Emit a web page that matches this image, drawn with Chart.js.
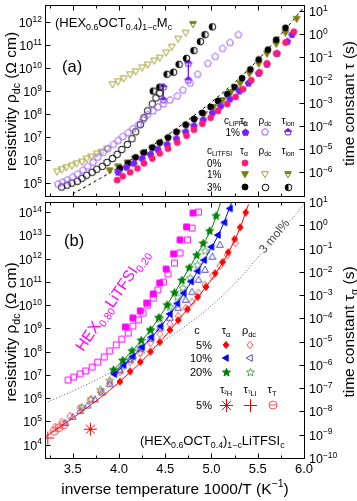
<!DOCTYPE html>
<html>
<head>
<meta charset="utf-8">
<script src="https://cdn.jsdelivr.net/npm/chart.js@4.4.0/dist/chart.umd.min.js"></script>
<style>
html, body { margin: 0; padding: 0; background: #fff; }
#wrap { position: relative; width: 357px; height: 501px; }
canvas { position: absolute; left: 0; top: 0; }
</style>
</head>
<body>
<div id="wrap">
  <canvas id="chartA" width="357" height="501"></canvas>
  <canvas id="chartB" width="357" height="501"></canvas>
</div>
<script>
// all values below are log10 of rho (Ohm cm) or tau (s); x is 1000/T

// ---- panel (a) ----
const aFitX = [3.50, 3.80, 4.12, 4.44, 4.77, 5.09, 5.42, 5.74, 6.00];
const aFit  = [-6.94, -6.26, -5.48, -4.62, -3.66, -2.65, -1.45, -0.06, 1.18];

const aTauX0 = [3.98, 4.04, 4.12, 4.20, 4.27, 4.36, 4.44, 4.53, 4.63, 4.73, 4.81, 4.90, 4.99, 5.07, 5.17, 5.26, 5.34, 5.43, 5.52, 5.60, 5.70, 5.80, 5.89];
const aTau0  = [-6.34, -6.17, -6.00, -5.83, -5.61, -5.40, -5.18, -4.97, -4.71, -4.41, -4.15, -3.89, -3.63, -3.33, -3.03, -2.73, -2.39, -2.00, -1.65, -1.27, -0.84, -0.36, 0.11];

const aTauX3 = [4.01, 4.10, 4.18, 4.27, 4.36, 4.44, 4.53, 4.62, 4.72, 4.81, 4.90, 4.99, 5.07, 5.17, 5.25, 5.33, 5.42, 5.51, 5.61, 5.70, 5.80];
const aTau3  = [-5.83, -5.61, -5.35, -5.14, -4.92, -4.71, -4.49, -4.24, -3.93, -3.68, -3.42, -3.16, -2.90, -2.60, -2.30, -1.91, -1.53, -1.10, -0.67, -0.24, 0.28];

const aTauX1 = [3.90, 3.99, 4.09, 4.17, 4.26, 4.36, 4.44, 4.53, 4.63, 4.73, 4.82, 4.92, 5.02, 5.12, 5.21, 5.31, 5.41, 5.51, 5.60, 5.70, 5.80, 5.92];
const aTau1  = [-5.91, -5.74, -5.57, -5.40, -5.18, -4.97, -4.75, -4.54, -4.28, -3.98, -3.72, -3.46, -3.16, -2.86, -2.51, -2.13, -1.70, -1.27, -0.84, -0.41, 0.07, 0.67];

const aTauXP = [3.99, 4.08, 4.16, 4.25, 4.34, 4.42, 4.52, 4.62, 4.72, 4.81, 4.91, 5.01, 5.10, 5.20, 5.30, 5.40, 5.51, 5.60, 5.71, 5.82, 5.87];
const aTauP  = [-6.00, -5.78, -5.61, -5.40, -5.22, -5.01, -4.79, -4.54, -4.24, -3.98, -3.72, -3.42, -3.12, -2.82, -2.47, -2.13, -1.70, -1.31, -0.84, -0.32, -0.02];

const aRhoX3 = [3.38, 3.44, 3.49, 3.55, 3.60, 3.65, 3.71, 3.76, 3.82, 3.87, 3.93, 3.98, 4.03, 4.09, 4.14, 4.18, 4.23, 4.27, 4.31, 4.36, 4.40, 4.44];
const aRho3  = [4.84, 4.92, 5.01, 5.09, 5.22, 5.35, 5.48, 5.61, 5.74, 5.91, 6.08, 6.26, 6.47, 6.69, 6.94, 7.24, 7.55, 7.85, 8.15, 8.45, 8.71, 8.92];

const aRhoXP = [3.34, 3.39, 3.44, 3.50, 3.55, 3.61, 3.66, 3.72, 3.77, 3.83, 3.88, 3.94, 3.99, 4.04, 4.10, 4.15, 4.21, 4.26, 4.31, 4.37, 4.42, 4.48, 4.55, 4.63, 4.69, 4.77, 4.85, 4.96, 5.04, 5.12, 5.20, 5.29];
const aRhoP  = [4.97, 5.05, 5.14, 5.27, 5.40, 5.57, 5.74, 5.91, 6.13, 6.34, 6.51, 6.69, 6.86, 7.03, 7.20, 7.37, 7.55, 7.76, 7.98, 8.15, 8.32, 8.45, 8.62, 8.79, 9.05, 9.35, 9.74, 10.21, 10.51, 10.86, 11.12, 11.46];

const aRhoX1 = [3.33, 3.38, 3.43, 3.49, 3.54, 3.60, 3.65, 3.70, 3.76, 3.81, 3.87, 3.93, 3.99, 4.05, 4.12, 4.18, 4.25, 4.31, 4.38, 4.44, 4.51, 4.57, 4.64, 4.72];
const aRho1  = [5.52, 5.61, 5.70, 5.78, 5.87, 5.95, 6.08, 6.17, 6.30, 6.38, 6.51, 9.31, 9.44, 9.57, 9.74, 9.87, 10.04, 10.17, 10.34, 10.47, 10.69, 10.94, 11.29, 11.55];

const aIonX3 = [4.37, 4.44, 4.52, 4.59, 4.65, 4.73, 4.81, 4.88, 4.93, 5.01];
const aIon3  = [-2.47, -2.30, -1.74, -1.65, -1.31, -1.05, -0.71, -0.32, -0.02, 0.32];
const aIonX1 = [4.80];
const aIon1  = [0.45];
const aIonXP1 = [4.48, 4.48];
const aIonP1  = [-2.30, -2.86];
const aIonXP2 = [4.75, 4.75];
const aIonP2  = [-1.27, -2.00];

// ---- panel (b) ----
const bRefX = [3.20, 3.50, 3.80, 4.10, 4.40, 4.70, 5.00, 5.30, 5.55, 5.80, 6.00];
const bRef  = [-7.64, -7.12, -6.55, -5.90, -5.18, -4.38, -3.45, -2.30, -1.15, -0.05, 0.90];

const bFitX5 = [3.20, 3.60, 4.00, 4.40, 4.70, 4.95, 5.15, 5.30, 5.40];
const bFit5  = [-9.10, -8.00, -6.75, -5.20, -3.80, -2.60, -1.40, -0.20, 0.90];
const bFitX10 = [3.95, 4.20, 4.40, 4.60, 4.80, 4.95, 5.10, 5.22];
const bFit10  = [-6.40, -5.45, -4.60, -3.55, -2.30, -1.30, -0.20, 1.00];
const bFitX20 = [3.94, 4.15, 4.34, 4.52, 4.69, 4.86, 5.02, 5.10];
const bFit20  = [-6.22, -5.36, -4.50, -3.43, -2.30, -1.15, 0.05, 1.00];

const bTauX5 = [4.01, 4.12, 4.23, 4.34, 4.44, 4.55, 4.64, 4.74, 4.85, 4.94, 5.04, 5.12, 5.18, 5.25, 5.31, 5.37];
const bTau5  = [-6.72, -6.28, -5.87, -5.43, -5.02, -4.50, -4.08, -3.61, -3.08, -2.65, -2.06, -1.58, -1.16, -0.60, -0.09, 0.55];
const bTauX10 = [3.95, 4.05, 4.15, 4.25, 4.35, 4.45, 4.55, 4.63, 4.70, 4.78, 4.85, 4.92, 5.00, 5.07, 5.14, 5.20];
const bTau10  = [-6.40, -6.02, -5.64, -5.24, -4.81, -4.34, -3.81, -3.36, -2.92, -2.42, -1.97, -1.50, -0.93, -0.42, 0.12, 0.72];
const bTauX20 = [3.94, 4.04, 4.14, 4.24, 4.34, 4.43, 4.52, 4.60, 4.68, 4.76, 4.84, 4.91, 4.98, 5.05];
const bTau20  = [-6.22, -5.81, -5.40, -4.95, -4.50, -3.97, -3.43, -2.90, -2.37, -1.83, -1.29, -0.78, -0.25, 0.40];

const bRhoX5 = [3.31, 3.38, 3.47, 3.58, 3.69, 3.80, 3.90, 4.01, 4.12, 4.23, 4.34, 4.44, 4.55, 4.64, 4.72, 4.79, 4.86, 4.93, 5.01, 5.09, 5.17, 5.26];
const bRho5  = [4.76, 4.98, 5.23, 5.58, 5.92, 6.26, 6.69, 7.12, 7.55, 7.94, 8.37, 8.76, 9.19, 9.53, 9.87, 10.13, 10.52, 10.86, 11.25, 11.68, 12.15, 12.67];
const bRhoX10 = [3.42, 3.50, 3.58, 3.66, 3.74, 3.82, 3.90, 4.01, 4.12, 4.23, 4.34, 4.44, 4.55, 4.64, 4.72, 4.79, 4.86, 4.93, 5.01, 5.09];
const bRho10  = [4.93, 5.19, 5.45, 5.68, 5.94, 6.25, 6.60, 7.20, 7.65, 8.10, 8.55, 9.00, 9.45, 9.87, 10.22, 10.56, 11.08, 11.51, 12.07, 12.58];
const bRhoX20 = [3.60, 3.70, 3.80, 3.90, 4.01, 4.12, 4.23, 4.34, 4.44, 4.55, 4.63, 4.69, 4.77, 4.85, 4.93];
const bRho20  = [5.60, 5.95, 6.35, 6.75, 7.20, 7.65, 8.15, 8.90, 9.40, 9.90, 10.35, 10.73, 11.16, 11.72, 12.32];

const bSqRhoX = [3.45, 3.51, 3.58, 3.64, 3.71, 3.77, 3.84, 3.90, 3.97, 4.03, 4.10, 4.15, 4.21, 4.26, 4.31, 4.37, 4.42, 4.48, 4.53, 4.60, 4.66, 4.74, 4.79, 4.86];
const bSqRho  = [6.78, 6.91, 7.04, 7.17, 7.34, 7.55, 7.77, 8.03, 8.29, 8.54, 8.80, 9.10, 9.36, 9.66, 10.00, 10.30, 10.65, 10.99, 11.34, 11.81, 12.24, 12.80, 13.31, 14.00];
const bSqTauX = [4.07, 4.15, 4.23, 4.30, 4.37, 4.44, 4.51, 4.59, 4.66, 4.73, 4.80];
const bSqTau  = [-4.37, -3.98, -3.68, -3.34, -2.95, -2.48, -1.88, -1.23, -0.63, -0.07, 0.53];

const bH2X = [3.69];  const bH2 = [-8.76];
const bLiX = [3.23];  const bLi = [-9.14];
const bTTX = [3.30, 3.35, 3.40];  const bTT = [-8.85, -8.70, -8.58];

// ---------- helpers ----------
const FONT = '"Liberation Sans", Arial, Helvetica, sans-serif';

function rich(ctx, str, x, y, size, align, color, halo) {
  const parts = [];
  let cur = '', i = 0;
  while (i < str.length) {
    const c = str[i];
    if ((c === '_' || c === '^') && str[i + 1] === '{') {
      if (cur) parts.push({ t: cur, m: 0 });
      cur = '';
      const end = str.indexOf('}', i);
      parts.push({ t: str.slice(i + 2, end), m: c === '_' ? -1 : 1 });
      i = end + 1;
    } else { cur += c; i++; }
  }
  if (cur) parts.push({ t: cur, m: 0 });
  const small = size * 0.68;
  let w = 0;
  parts.forEach(p => {
    ctx.font = (p.m ? small : size) + 'px ' + FONT;
    p.w = ctx.measureText(p.t).width;
    w += p.w;
  });
  let sx = align === 'center' ? x - w / 2 : align === 'right' ? x - w : x;
  ctx.textAlign = 'left';
  ctx.textBaseline = 'alphabetic';
  parts.forEach(p => {
    ctx.font = (p.m ? small : size) + 'px ' + FONT;
    const dy = p.m === -1 ? size * 0.24 : p.m === 1 ? -size * 0.42 : 0;
    if (halo) {
      ctx.strokeStyle = '#fff'; ctx.lineWidth = 3;
      ctx.strokeText(p.t, sx, y + dy);
    }
    ctx.fillStyle = color || '#000';
    ctx.fillText(p.t, sx, y + dy);
    sx += p.w;
  });
}

function richRot(ctx, str, cx, cy, size, deg, color, halo) {
  ctx.save();
  ctx.translate(cx, cy);
  ctx.rotate(deg * Math.PI / 180);
  rich(ctx, str, 0, size * 0.35, size, 'center', color, halo);
  ctx.restore();
}

const SHAPES = {
  circle: (g, r) => g.arc(0, 0, r, 0, Math.PI * 2),
  pent: (g, r) => {
    for (let k = 0; k < 5; k++) {
      const a = -Math.PI / 2 + k * Math.PI * 2 / 5;
      g.lineTo(r * Math.cos(a), r * Math.sin(a));
    }
    g.closePath();
  },
  triDown: (g, r) => { g.moveTo(0, r); g.lineTo(-r * 0.9, -r * 0.6); g.lineTo(r * 0.9, -r * 0.6); g.closePath(); },
  triUp: (g, r) => { g.moveTo(0, -r); g.lineTo(r * 0.9, r * 0.6); g.lineTo(-r * 0.9, r * 0.6); g.closePath(); },
  triLeft: (g, r) => { g.moveTo(-r, 0); g.lineTo(r * 0.6, -r * 0.9); g.lineTo(r * 0.6, r * 0.9); g.closePath(); },
  diamond: (g, r) => { g.moveTo(0, -r); g.lineTo(r * 0.8, 0); g.lineTo(0, r); g.lineTo(-r * 0.8, 0); g.closePath(); },
  star: (g, r) => {
    for (let k = 0; k < 10; k++) {
      const a = -Math.PI / 2 + k * Math.PI / 5;
      const rr = k % 2 ? r * 0.45 : r;
      g.lineTo(rr * Math.cos(a), rr * Math.sin(a));
    }
    g.closePath();
  },
  square: (g, r) => g.rect(-r * 0.85, -r * 0.85, r * 1.7, r * 1.7),
  ast: (g, r) => {
    for (let k = 0; k < 4; k++) {
      const a = k * Math.PI / 4;
      g.moveTo(r * Math.cos(a), r * Math.sin(a));
      g.lineTo(-r * Math.cos(a), -r * Math.sin(a));
    }
  },
  plus: (g, r) => { g.moveTo(-r, 0); g.lineTo(r, 0); g.moveTo(0, -r); g.lineTo(0, r); },
  cbar: (g, r) => { g.arc(0, 0, r, 0, Math.PI * 2); g.moveTo(-r, 0); g.lineTo(r, 0); }
};

function sym(shape, color, mode, r) {
  const s = Math.ceil(r * 2 + 4);
  const c = document.createElement('canvas');
  c.width = s; c.height = s;
  const g = c.getContext('2d');
  g.translate(s / 2, s / 2);
  g.lineWidth = 1;
  g.strokeStyle = color;
  g.fillStyle = color;
  g.beginPath(); SHAPES[shape](g, r);
  if (mode === 'fill') { g.fill(); g.stroke(); }
  else {
    g.stroke();
    if (mode === 'half') {
      g.save();
      g.beginPath(); SHAPES[shape](g, r); g.clip();
      g.fillRect(-s, -s, 2 * s, s);
      g.restore();
    } else if (mode === 'halfL') {
      g.save();
      g.beginPath(); SHAPES[shape](g, r); g.clip();
      g.fillRect(-s, -s, s, 2 * s);
      g.restore();
    }
  }
  return c;
}

function pts(xs, ls) { return xs.map((x, i) => ({ x: x, y: Math.pow(10, ls[i]) })); }
function marks(xs, ls, axis, style) {
  return { data: pts(xs, ls), yAxisID: axis, pointStyle: style, pointRadius: 3, showLine: false };
}
function curve(xs, ls, axis, color, dash) {
  return {
    data: pts(xs, ls), yAxisID: axis, showLine: true, pointRadius: 0,
    borderColor: color, borderWidth: 1, borderDash: dash || [],
    cubicInterpolationMode: 'monotone', fill: false
  };
}

function drawSym(ctx, s, x, y) { ctx.drawImage(s, Math.round(x - s.width / 2), Math.round(y - s.height / 2)); }
function expo(e) { return '10^{' + (e < 0 ? '\u2212' + (-e) : e) + '}'; }

const framePlugin = {
  id: 'frame',
  afterDatasetsDraw(chart, args, o) {
    const ctx = chart.ctx, a = chart.chartArea, sx = chart.scales.x;
    const yl = chart.scales.yL, yr = chart.scales.yR;
    const L = Math.round(a.left) + 0.5, R = Math.round(a.right) + 0.5;
    const T = Math.round(a.top) + 0.5, B = Math.round(a.bottom) + 0.5;
    ctx.save();
    ctx.strokeStyle = '#000';
    ctx.lineWidth = 1;
    ctx.strokeRect(L, T, R - L, B - T);
    ctx.beginPath();
    for (let v = 3.25; v < 6.0; v += 0.25) {
      const p = Math.round(sx.getPixelForValue(v)) + 0.5;
      const len = Math.abs(v * 2 - Math.round(v * 2)) < 1e-6 ? 5 : 3;
      ctx.moveTo(p, B); ctx.lineTo(p, B - len);
      ctx.moveTo(p, T); ctx.lineTo(p, T + len);
    }
    for (let e = o.left[0]; e <= o.left[1]; e++) {
      const p = Math.round(yl.getPixelForValue(Math.pow(10, e))) + 0.5;
      ctx.moveTo(L, p); ctx.lineTo(L + 5, p);
    }
    for (let e = o.right[0]; e <= o.right[1]; e++) {
      const p = Math.round(yr.getPixelForValue(Math.pow(10, e))) + 0.5;
      ctx.moveTo(R, p); ctx.lineTo(R - 5, p);
    }
    ctx.stroke();

    for (let e = o.left[0]; e <= o.left[1]; e++) {
      const p = yl.getPixelForValue(Math.pow(10, e));
      rich(ctx, expo(e), a.left - 3, p + 5, 12.5, 'right');
    }
    for (let e = o.right[0]; e <= o.right[1]; e++) {
      const p = yr.getPixelForValue(Math.pow(10, e));
      rich(ctx, expo(e), a.right + 5, p + 5, 12.5, 'left');
    }
    if (o.xlabels) {
      ['3.5', '4.0', '4.5', '5.0', '5.5', '6.0'].forEach(t => {
        const p = sx.getPixelForValue(parseFloat(t));
        rich(ctx, t, p, a.bottom + 15, 13, 'center');
      });
      rich(ctx, 'inverse temperature 1000/T (K^{\u22121})', 175, 494, 15.5, 'center');
    }
    const mid = (a.top + a.bottom) / 2;
    richRot(ctx, 'resistivity \u03c1_{dc} (\u03a9 cm)', 10.5, mid + o.dyL, 15.5, -90);
    richRot(ctx, o.titleR, 349, mid + o.dyR, 15.5, -90);
    if (o.notes) o.notes(ctx, chart);
    ctx.restore();
  }
};

const PINK = '#ff1a75', PURPLE = '#7a1fff', PURPLE_O = '#9a5cff';
const OLIVE = '#7d7d0a', OLIVE_O = '#a0a030';
const MAG = '#ff00ff', RED = '#ff0000', RED_O = '#ff5050';
const BLUE = '#0000ff', BLUE_O = '#4b4bd0', GREEN = '#008000', GREEN_O = '#50a050';

const sPink = sym('circle', PINK, 'fill', 3);
const sBlack = sym('circle', '#000', 'fill', 3);
const sBlackO = sym('circle', '#000', 'open', 3.3);
const sBlackH = sym('circle', '#000', 'halfL', 3.3);
const sOlive = sym('triDown', OLIVE, 'fill', 3.8);
const sOliveO = sym('triDown', OLIVE_O, 'open', 3.8);
const sOliveH = sym('triDown', OLIVE, 'half', 3.8);
const sPurp = sym('pent', PURPLE, 'fill', 3.5);
const sPurpO = sym('pent', PURPLE_O, 'open', 3.6);
const sPurpH = sym('pent', PURPLE, 'half', 3.6);

const sSq = sym('square', MAG, 'fill', 3.4);
const sSqO = sym('square', MAG, 'open', 3.4);
const sRed = sym('diamond', RED, 'fill', 3.6);
const sRedO = sym('diamond', RED_O, 'open', 3.8);
const sBlue = sym('triLeft', BLUE, 'fill', 3.6);
const sBlueO = sym('triUp', BLUE_O, 'open', 3.8);
const sBlueOL = sym('triLeft', BLUE_O, 'open', 3.8);
const sGreen = sym('star', GREEN, 'fill', 4.2);
const sGreenO = sym('star', GREEN_O, 'open', 4.2);
const sAst = sym('ast', RED, 'open', 6.5);
const sPlus = sym('plus', RED, 'open', 6.5);
const sCbar = sym('cbar', RED_O, 'open', 4);

const base = {
  responsive: false, animation: false, events: [], devicePixelRatio: 1,
  plugins: { legend: { display: false }, tooltip: { enabled: false } }
};

new Chart(document.getElementById('chartA'), {
  type: 'scatter',
  data: {
    datasets: [
      marks(aTauX0, aTau0, 'yR', sPink),
      marks(aTauXP, aTauP, 'yR', sPurp),
      marks(aTauX3, aTau3, 'yR', sBlack),
      marks(aTauX1, aTau1, 'yR', sOlive),
      curve(aFitX, aFit, 'yR', '#000', [3, 3]),
      marks(aRhoXP, aRhoP, 'yL', sPurpO),
      marks(aRhoX3, aRho3, 'yL', sBlackO),
      marks(aRhoX1, aRho1, 'yL', sOliveO),
      marks(aIonX3, aIon3, 'yR', sBlackH),
      marks(aIonX1, aIon1, 'yR', sOliveH),
      Object.assign(marks(aIonXP1, aIonP1, 'yR', sPurpH), { showLine: true, borderColor: PURPLE, borderWidth: 1 }),
      Object.assign(marks(aIonXP2, aIonP2, 'yR', sPurpH), { showLine: true, borderColor: PURPLE, borderWidth: 1 })
    ]
  },
  options: Object.assign({}, base, {
    layout: { padding: { left: 45, right: 53, top: 3, bottom: 305 } },
    plugins: Object.assign({}, base.plugins, {
      frame: {
        left: [5, 12], right: [-6, 1], xlabels: false, dyL: 1, dyR: 3,
        titleR: 'time constant \u03c4 (s)',
        notes: (ctx) => {
          rich(ctx, '(HEX_{0.6}OCT_{0.4})_{1\u2212c}M_{c}', 55, 27, 13, 'left');
          rich(ctx, '(a)', 62, 72, 16.5, 'left');
          const f = 10;
          rich(ctx, 'c_{LiPF6}', 224, 123.5, f, 'left');
          rich(ctx, '\u03c4_{\u03b1}', 244, 123.5, f, 'center');
          rich(ctx, '\u03c1_{dc}', 265, 123.5, f, 'center');
          rich(ctx, '\u03c4_{ion}', 288, 123.5, f, 'center');
          rich(ctx, '1%', 240, 136, f, 'right');
          drawSym(ctx, sPurp, 245, 132); drawSym(ctx, sPurpO, 265, 132); drawSym(ctx, sPurpH, 288, 132);
          rich(ctx, 'c_{LiTFSI}', 207, 153.5, f, 'left');
          rich(ctx, '\u03c4_{\u03b1}', 244, 153.5, f, 'center');
          rich(ctx, '\u03c1_{dc}', 265, 153.5, f, 'center');
          rich(ctx, '\u03c4_{ion}', 288, 153.5, f, 'center');
          rich(ctx, '0%', 207, 166.5, f, 'left');
          drawSym(ctx, sPink, 245, 163);
          rich(ctx, '1%', 207, 177.5, f, 'left');
          drawSym(ctx, sOlive, 245, 174); drawSym(ctx, sOliveO, 265, 174); drawSym(ctx, sOliveH, 288, 174);
          rich(ctx, '3%', 207, 190.5, f, 'left');
          drawSym(ctx, sBlack, 245, 187); drawSym(ctx, sBlackO, 265, 187); drawSym(ctx, sBlackH, 288, 187);
        }
      }
    }),
    scales: {
      x: { type: 'linear', min: 3.2, max: 6.0, display: false },
      yL: { type: 'logarithmic', position: 'left', min: Math.pow(10, 4.45), max: Math.pow(10, 12.75), display: false },
      yR: { type: 'logarithmic', position: 'right', min: Math.pow(10, -7.03), max: Math.pow(10, 1.27), display: false }
    }
  }),
  plugins: [framePlugin]
});

new Chart(document.getElementById('chartB'), {
  type: 'scatter',
  data: {
    datasets: [
      curve(bRefX, bRef, 'yR', '#555', [1, 2]),
      curve(bFitX5, bFit5, 'yR', RED),
      curve(bFitX10, bFit10, 'yR', BLUE),
      curve(bFitX20, bFit20, 'yR', GREEN),
      marks(bTauX5, bTau5, 'yR', sRed),
      marks(bTauX10, bTau10, 'yR', sBlue),
      marks(bTauX20, bTau20, 'yR', sGreen),
      marks(bRhoX5, bRho5, 'yL', sRedO),
      marks(bRhoX10, bRho10, 'yL', sBlueO),
      marks(bRhoX20, bRho20, 'yL', sGreenO),
      marks(bSqTauX, bSqTau, 'yR', sSq),
      marks(bSqRhoX, bSqRho, 'yL', sSqO),
      marks(bH2X, bH2, 'yR', sAst),
      marks(bLiX, bLi, 'yR', sPlus),
      marks(bTTX, bTT, 'yR', sCbar)
    ]
  },
  options: Object.assign({}, base, {
    layout: { padding: { left: 45, right: 53, top: 202, bottom: 43 } },
    plugins: Object.assign({}, base.plugins, {
      frame: {
        left: [4, 14], right: [-10, 1], xlabels: true, dyL: 2, dyR: 2,
        titleR: 'time constant \u03c4_{\u03b1} (s)',
        notes: (ctx) => {
          rich(ctx, '(b)', 64, 246, 16.5, 'left');
          richRot(ctx, 'HEX_{0.80}LiTFSI_{0.20}', 112, 300, 15.5, -56, MAG);
          richRot(ctx, '3 mol%', 274, 236, 12, -50, '#444', true);
          rich(ctx, '(HEX_{0.6}OCT_{0.4})_{1\u2212c}LiTFSI_{c}', 140, 445, 13, 'left');
          const f = 11;
          rich(ctx, 'c', 197, 334, f, 'center');
          rich(ctx, '\u03c4_{\u03b1}', 226, 334, f, 'center');
          rich(ctx, '\u03c1_{dc}', 249, 334, f, 'center');
          rich(ctx, '5%', 212, 349, f, 'right');
          drawSym(ctx, sRed, 226, 345); drawSym(ctx, sRedO, 250, 345);
          rich(ctx, '10%', 212, 362, f, 'right');
          drawSym(ctx, sBlue, 226, 358); drawSym(ctx, sBlueOL, 250, 358);
          rich(ctx, '20%', 212, 376, f, 'right');
          drawSym(ctx, sGreen, 226, 372); drawSym(ctx, sGreenO, 250, 372);
          rich(ctx, '\u03c4_{\u00b2H}', 226, 393, f, 'center');
          rich(ctx, '\u03c4_{\u2077Li}', 250, 393, f, 'center');
          rich(ctx, '\u03c4_{T}', 272, 393, f, 'center');
          rich(ctx, '5%', 212, 409, f, 'right');
          drawSym(ctx, sAst, 226, 405); drawSym(ctx, sPlus, 250, 405); drawSym(ctx, sCbar, 273, 405);
        }
      }
    }),
    scales: {
      x: { type: 'linear', min: 3.2, max: 6.0, display: false },
      yL: { type: 'logarithmic', position: 'left', min: Math.pow(10, 3.43), max: Math.pow(10, 14.43), display: false },
      yR: { type: 'logarithmic', position: 'right', min: Math.pow(10, -10), max: Math.pow(10, 1), display: false }
    }
  }),
  plugins: [framePlugin]
});
</script>
</body>
</html>
